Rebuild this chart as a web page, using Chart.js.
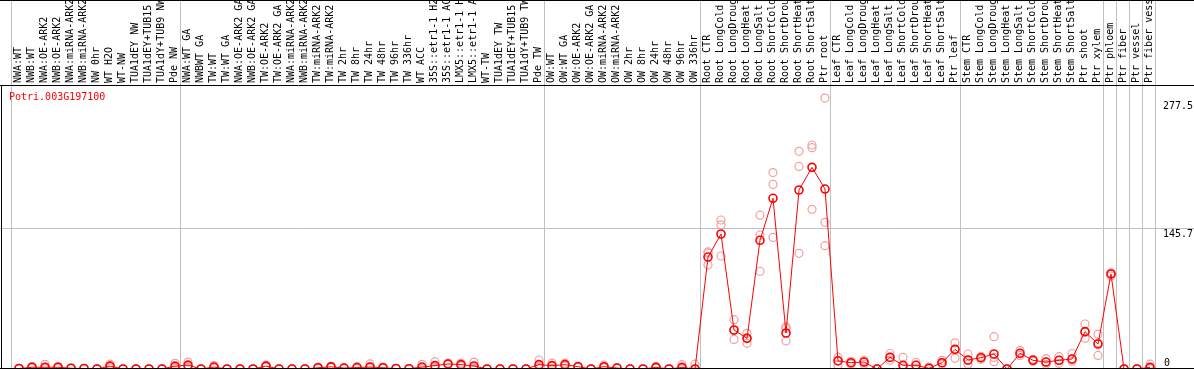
<!DOCTYPE html>
<html><head><meta charset="utf-8">
<script src="https://cdn.jsdelivr.net/npm/chart.js@4"></script>
<style>html,body{margin:0;padding:0;background:#fff;overflow:hidden}canvas{display:block}</style>
</head><body>
<canvas id="c" width="1194" height="370"></canvas>
<script>
const geneName = "Potri.003G197100";
const categories = [
 "NWA:WT","NWB:WT","NWA:OE-ARK2","NWB:OE-ARK2","NWA:miRNA-ARK2","NWB:miRNA-ARK2","NW 0hr","WT H2O","WT-NW","TUA1dEY NW","TUA1dEY+TUB15 NW","TUA1dY+TUB9 NW","Pde NW",
 "NWA:WT GA","NWBWT GA","TW:WT","TW:WT GA","NWA:OE-ARK2 GA","NWB:OE-ARK2 GA","TW:OE-ARK2","TW:OE-ARK2 GA","NWA:miRNA-ARK2 GA","NWB:miRNA-ARK2 GA","TW:miRNA-ARK2","TW:miRNA-ARK2 GA","TW 2hr","TW 8hr","TW 24hr","TW 48hr","TW 96hr","TW 336hr","WT ACC","35S::etr1-1 H2O","35S::etr1-1 ACC","LMX5::etr1-1 H2O","LMX5::etr1-1 ACC","WT-TW","TUA1dEY TW","TUA1dEY+TUB15 TW","TUA1dY+TUB9 TW","Pde TW",
 "OW:WT","OW:WT GA","OW:OE-ARK2","OW:OE-ARK2 GA","OW:miRNA-ARK2","OW:miRNA-ARK2 GA","OW 2hr","OW 8hr","OW 24hr","OW 48hr","OW 96hr","OW 336hr",
 "Root CTR","Root LongCold","Root LongDrought","Root LongHeat","Root LongSalt","Root ShortCold","Root ShortDrought","Root ShortHeat","Root ShortSalt","Ptr root",
 "Leaf CTR","Leaf LongCold","Leaf LongDrought","Leaf LongHeat","Leaf LongSalt","Leaf ShortCold","Leaf ShortDrought","Leaf ShortHeat","Leaf ShortSalt","Ptr leaf",
 "Stem CTR","Stem LongCold","Stem LongDrought","Stem LongHeat","Stem LongSalt","Stem ShortCold","Stem ShortDrought","Stem ShortHeat","Stem ShortSalt","Ptr shoot","Ptr xylem",
 "Ptr phloem","Ptr fiber","Ptr vessel","Ptr fiber vessel"
];
const meanValues = [
 0.5,1.8,1.8,1.8,0.8,0.5,0,3.0,0,0,0,0,3.0,
 4.0,0,2.0,0,0,0,3.0,0,0,0,1.3,2.2,1.0,1.5,2.0,1.3,0.5,0.3,2.0,3.5,5.2,4.5,3.1,0,0,0,0,4.5,
 3.5,4.5,2.4,0,2.4,1.0,0,0,1.7,0,1.7,0,
 115.7,139.5,40.3,31.7,133,176.4,37.2,185,208.4,186,
 8.3,6.5,7.2,0,12,3.8,3.8,0.7,6.5,20.3,
 9.3,11.7,15.5,0,16.2,9,7.2,9,10.3,38.6,25.8,
 98.2,0,0,1.7
];
const rep1 = [
 0.8,2.5,4.8,2.5,1,0.5,0,5,0,0,0,0,5.9,
 7.2,0,3.5,0,0,0,4,0,0,0,2,3,1.5,2.5,5.2,2,0.5,0.5,4.8,7.6,6,6,7.2,0,0,0,0,9.3,
 6,6,3,0,4,1.5,0,0,2.5,0,4.5,5,
 121,154,51,36.9,159,203,43.7,225,231.5,280,
 12,8,9,0,16,12,7,2,9,27,
 15.5,13,33.4,0,19,10,10.7,12.7,16,46.5,36,
 99.5,0,0,5
];
const rep2 = [
 0.5,2,0.5,2,0.8,0.5,0,3,0,0,0,0,2,
 3,0,2,0,0,0,3,0,0,0,1.5,2,1,1.5,2.5,1,0.5,0.3,1,2,5,4.5,1.5,0,0,0,0,3,
 3.5,4.5,2.4,0,2,1,0,0,1.7,0,0.5,0,
 120,149,40,32,138.5,190.8,42,209.4,228.7,151.6,
 9,6,7,0,12,3,4,0.5,6.5,20,
 9,11.7,12,0,16,9,7,9,10,38,27,
 98,0,0,1
];
const rep3 = [
 0.2,1,0.3,1,0.5,0.5,0,1,0,0,0,0,1,
 1.5,0,0.5,0,0,0,2,0,0,0,0.5,1.5,0.5,0.5,1,1,0.5,0.1,0.3,1,4.5,3,0.5,0,0,0,0,1.2,
 1,3,1.8,0,1.2,0.5,0,0,1,0,0,0,
 107.5,116.8,30.6,26.5,101,136,29,119.5,165,127.4,
 4,5,5,0,9,1,1,0,5,11,
 5,10,7.6,0,14,8,4.8,5.9,8,31.7,14,
 96,0,0,0
];
const yTickValues = [0, 145.7, 277.5];
const yTickLabels = ["0", "145.7", "277.5"];
const gridValues = [145.7];
const groupBoundaries = [0, 13, 41, 53, 63, 73, 84, 85, 86, 87, 88];

const FONT = '10px "DejaVu Sans Mono", monospace';

const meanData = meanValues.map((v, i) => ({x: i, y: v}));
const repData = [];
[rep1, rep2, rep3].forEach(r => r.forEach((v, i) => repData.push({x: i, y: v})));

const framePlugin = {
  id: 'frame',
  beforeDatasetsDraw(chart) {
    const ctx = chart.ctx, xs = chart.scales.x, ys = chart.scales.y;
    const W = chart.width;
    ctx.save();
    ctx.strokeStyle = '#c0c0c0';
    ctx.lineWidth = 1;
    groupBoundaries.forEach(k => {
      const x = Math.floor(xs.getPixelForValue(k - 0.5)) - 1 + 0.5;
      ctx.beginPath(); ctx.moveTo(x, 0); ctx.lineTo(x, 369); ctx.stroke();
    });
    gridValues.forEach(v => {
      const y = Math.round(ys.getPixelForValue(v)) + 0.5;
      ctx.beginPath(); ctx.moveTo(0, y); ctx.lineTo(W, y); ctx.stroke();
    });
    ctx.restore();
  },
  afterDatasetsDraw(chart) {
    const ctx = chart.ctx, xs = chart.scales.x, ys = chart.scales.y;
    const W = chart.width;
    ctx.save();
    ctx.strokeStyle = '#000';
    ctx.lineWidth = 1;
    ctx.beginPath(); ctx.moveTo(0, 0.5); ctx.lineTo(W, 0.5); ctx.stroke();
    ctx.beginPath(); ctx.moveTo(0, 85.5); ctx.lineTo(W, 85.5); ctx.stroke();
    ctx.beginPath(); ctx.moveTo(0, 368.5); ctx.lineTo(W, 368.5); ctx.stroke();
    ctx.beginPath(); ctx.moveTo(1.5, 85); ctx.lineTo(1.5, 369); ctx.stroke();
    // category labels
    ctx.font = FONT;
    ctx.fillStyle = '#000';
    ctx.textAlign = 'left';
    ctx.textBaseline = 'middle';
    categories.forEach((c, i) => {
      const x = xs.getPixelForValue(i) - 0.5;
      ctx.save();
      ctx.translate(x, 83);
      ctx.rotate(-Math.PI / 2);
      ctx.fillText(c, 0, 0);
      ctx.restore();
    });
    // gene name
    ctx.fillStyle = '#ff0000';
    ctx.fillText(geneName, 9, 97);
    // y tick labels
    ctx.fillStyle = '#000';
    yTickValues.forEach((v, i) => {
      const y = ys.getPixelForValue(v);
      if (v === 0) { ctx.textBaseline = 'bottom'; ctx.fillText(yTickLabels[i], 1164, y - 1); }
      else { ctx.textBaseline = 'top'; ctx.fillText(yTickLabels[i], 1163, y + 1); }
    });
    ctx.restore();
  }
};

const xMin = -18 / 13;
new Chart(document.getElementById('c'), {
  type: 'line',
  data: {
    datasets: [
      {
        label: 'mean', data: meanData,
        borderColor: '#ff0000', borderWidth: 1,
        pointRadius: 4, pointBorderWidth: 1.6,
        pointBorderColor: '#ff0000', pointBackgroundColor: 'rgba(0,0,0,0)',
        tension: 0, order: 0
      },
      {
        label: 'replicates', data: repData, showLine: false,
        pointRadius: 4, pointBorderWidth: 1.2,
        pointBorderColor: '#f0a0a0', pointBackgroundColor: 'rgba(0,0,0,0)',
        order: 1
      }
    ]
  },
  options: {
    responsive: false, animation: false, events: [],
    layout: { autoPadding: false, padding: { left: 1, right: 0, top: 85, bottom: 1 } },
    plugins: { legend: { display: false }, tooltip: { enabled: false } },
    scales: {
      x: { type: 'linear', display: false, min: xMin, max: xMin + 1193 / 13 },
      y: { display: false, min: 0, max: 293.5 }
    }
  },
  plugins: [framePlugin]
});
</script>
</body></html>
